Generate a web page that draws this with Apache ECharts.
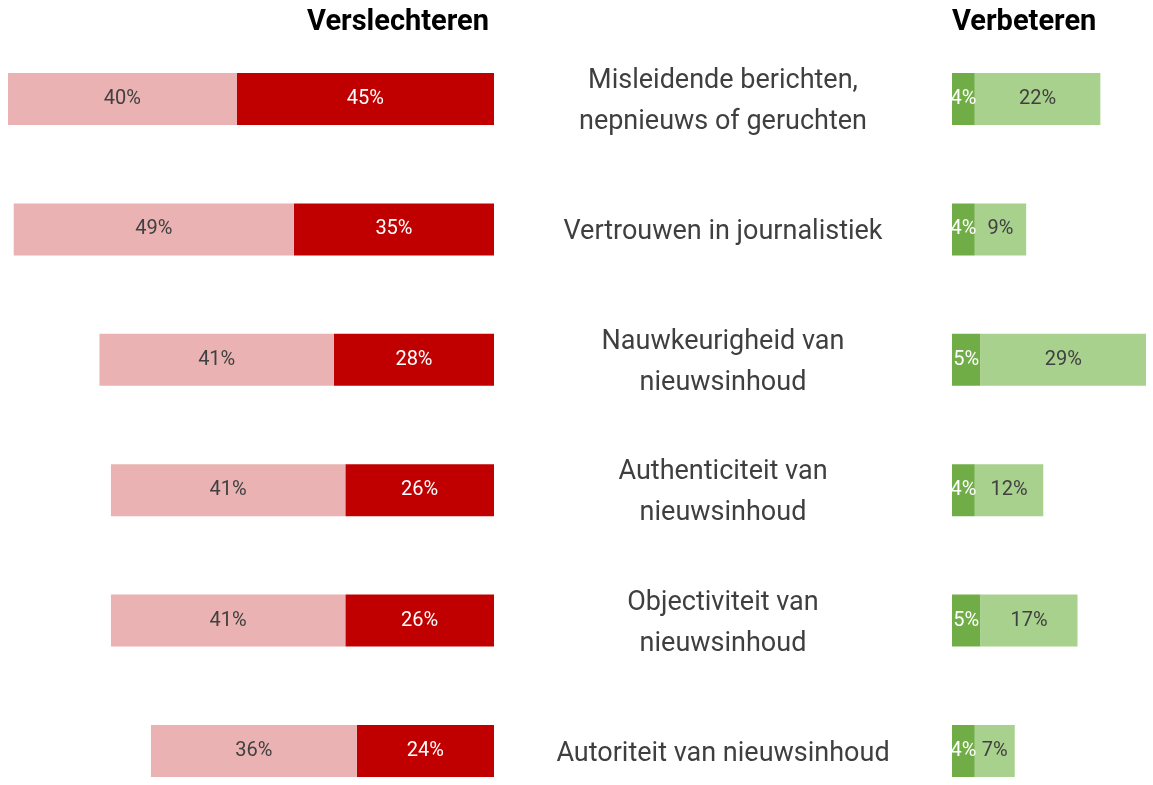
<!DOCTYPE html>
<html>
<head>
<meta charset="utf-8">
<script src="https://cdn.jsdelivr.net/npm/echarts@6/dist/echarts.min.js"></script>
<style>
  html, body { margin: 0; padding: 0; background: #fff; }
  #chart { width: 1153px; height: 785px; }
</style>
</head>
<body>
<div id="chart"></div>
<script>
// categories (top to bottom)
const categories = [
  'Misleidende berichten,\nnepnieuws of geruchten',
  'Vertrouwen in journalistiek',
  'Nauwkeurigheid van\nnieuwsinhoud',
  'Authenticiteit van\nnieuwsinhoud',
  'Objectiviteit van\nnieuwsinhoud',
  'Autoriteit van nieuwsinhoud'
]
// verslechteren
const worseStrong = [45, 35, 28, 26, 26, 24]
const worseSome = [40, 49, 41, 41, 41, 36]
// verbeteren
const betterStrong = [4, 4, 5, 4, 5, 4]
const betterSome = [22, 9, 29, 12, 17, 7]

const FONT = 'Roboto, "DejaVu Sans", sans-serif'

const chart = echarts.init(document.getElementById('chart'))

// category axis: ticks on the bar centres (boundaryGap false)
const catAxis = (gridIndex, showLabel) => ({
  type: 'category',
  gridIndex: gridIndex,
  data: categories,
  inverse: true,
  boundaryGap: false,
  position: 'left',
  axisLine: { show: false },
  axisTick: { show: false },
  splitLine: { show: false },
  axisLabel: {
    show: showLabel,
    align: 'center',
    margin: 229,
    fontFamily: FONT,
    fontSize: 27,
    lineHeight: 41,
    color: '#3f3f3f',
  },
})

const valAxis = (gridIndex, max, inverse) => ({
  type: 'value',
  gridIndex: gridIndex,
  min: 0,
  max: max,
  inverse: inverse,
  show: false,
  splitLine: { show: false },
})

const barLabel = color => ({
  show: true,
  position: 'inside',
  formatter: '{c}%',
  fontFamily: FONT,
  fontSize: 20,
  color: color,
})

const option = {
  backgroundColor: '#fff',
  animation: false,
  title: [
    {
      text: 'Verslechteren',
      right: 659,
      top: 3,
      textStyle: { fontFamily: FONT, fontWeight: 'bold', fontSize: 29, color: '#000' },
    },
    {
      text: 'Verbeteren',
      left: 947,
      top: 3,
      textStyle: { fontFamily: FONT, fontWeight: 'bold', fontSize: 29, color: '#000' },
    },
  ],
  grid: [
    { left: 8, width: 486, top: 99, height: 652 },
    { left: 952, width: 194, top: 99, height: 652 },
    // labels only, a touch lower than the bars
    { left: 952, width: 194, top: 102, height: 652 },
  ],
  xAxis: [valAxis(0, 85, true), valAxis(1, 34, false), valAxis(2, 34, false)],
  yAxis: [catAxis(0, false), catAxis(1, false), catAxis(2, true)],
  series: [
    {
      type: 'bar',
      name: 'Sterk verslechteren',
      xAxisIndex: 0,
      yAxisIndex: 0,
      stack: 'worse',
      barWidth: 52,
      data: worseStrong,
      itemStyle: { color: '#c00000' },
      label: barLabel('#ffffff'),
    },
    {
      type: 'bar',
      name: 'Verslechteren',
      xAxisIndex: 0,
      yAxisIndex: 0,
      stack: 'worse',
      barWidth: 52,
      data: worseSome,
      itemStyle: { color: '#eab2b2' },
      label: barLabel('#404040'),
    },
    {
      type: 'bar',
      name: 'Sterk verbeteren',
      xAxisIndex: 1,
      yAxisIndex: 1,
      stack: 'better',
      barWidth: 52,
      data: betterStrong,
      itemStyle: { color: '#70ad47' },
      label: barLabel('#ffffff'),
    },
    {
      type: 'bar',
      name: 'Verbeteren',
      xAxisIndex: 1,
      yAxisIndex: 1,
      stack: 'better',
      barWidth: 52,
      data: betterSome,
      itemStyle: { color: '#a9d18e' },
      label: barLabel('#404040'),
    },
  ],
}

chart.setOption(option)
</script>
</body>
</html>
